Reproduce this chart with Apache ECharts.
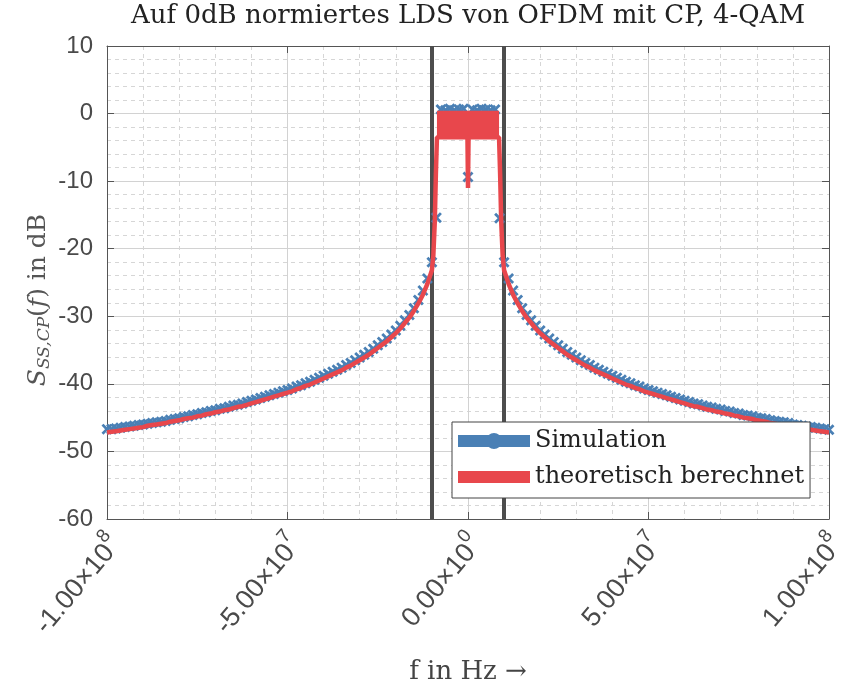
<!DOCTYPE html>
<html>
<head>
<meta charset="utf-8">
<script src="https://cdn.jsdelivr.net/npm/echarts@6/dist/echarts.min.js"></script>
<style>
  html, body { margin: 0; padding: 0; background: #fff; }
  #chart { width: 843px; height: 687px; }
</style>
</head>
<body>
<div id="chart"></div>
<script>
// Frequency resolution of the simulated PSD (FFT bin spacing in Hz)
const binStep = 1.25e6;

// Simulated PSD in dB, bins k = -80 .. -8
const simLeft = [
  -46.7, -46.7, -46.6, -46.5, -46.4, -46.3, -46.2, -46.1, -46.0, -45.9,
  -45.8, -45.7, -45.6, -45.5, -45.3, -45.2, -45.1, -44.9, -44.8, -44.6,
  -44.5, -44.3, -44.2, -44.0, -43.9, -43.7, -43.6, -43.4, -43.2, -43.1,
  -42.9, -42.7, -42.5, -42.3, -42.1, -41.9, -41.7, -41.5, -41.3, -41.1,
  -40.9, -40.7, -40.4, -40.2, -39.9, -39.7, -39.4, -39.1, -38.8, -38.5,
  -38.2, -37.9, -37.6, -37.2, -36.9, -36.5, -36.1, -35.7, -35.3, -34.8,
  -34.3, -33.8, -33.3, -32.7, -32.1, -31.4, -30.6, -29.8, -28.8, -27.6,
  -26.2, -24.4, -22.0
];
// Simulated PSD in dB, bins k = -7 .. 7 (occupied band, DC carrier unused)
const simCenter = [-15.4, 0.6, 0.5, 0.7, 0.5, 0.6, 0.7, -9.4, 0.6, 0.5, 0.7, 0.6, 0.5, 0.6, -15.5];
// Simulated PSD in dB, bins k = 8 .. 80
const simRight = [
  -22.0, -24.4, -26.2, -27.6, -28.8, -29.8, -30.6, -31.4, -32.1, -32.7,
  -33.3, -33.8, -34.3, -34.8, -35.3, -35.7, -36.1, -36.5, -36.9, -37.2,
  -37.6, -37.9, -38.2, -38.5, -38.8, -39.1, -39.4, -39.7, -39.9, -40.2,
  -40.4, -40.7, -40.9, -41.1, -41.3, -41.5, -41.7, -41.9, -42.1, -42.3,
  -42.5, -42.7, -42.9, -43.0, -43.2, -43.4, -43.5, -43.7, -43.8, -44.0,
  -44.1, -44.3, -44.4, -44.6, -44.7, -44.8, -45.0, -45.1, -45.2, -45.4,
  -45.5, -45.6, -45.7, -45.8, -46.0, -46.1, -46.2, -46.3, -46.4, -46.5,
  -46.6, -46.7, -46.8
];

// Theoretical PSD in dB outside the band, |k| = 8 .. 80 (symmetric in f)
const thTail = [
  -23.2, -25.2, -26.8, -28.1, -29.2, -30.2, -31.0, -31.8, -32.5, -33.1,
  -33.7, -34.2, -34.7, -35.2, -35.7, -36.1, -36.5, -36.9, -37.3, -37.6,
  -38.0, -38.3, -38.6, -38.9, -39.2, -39.5, -39.8, -40.1, -40.3, -40.6,
  -40.8, -41.1, -41.3, -41.5, -41.7, -41.9, -42.1, -42.3, -42.5, -42.7,
  -42.9, -43.1, -43.3, -43.4, -43.6, -43.8, -43.9, -44.1, -44.2, -44.4,
  -44.5, -44.7, -44.8, -45.0, -45.1, -45.2, -45.4, -45.5, -45.6, -45.8,
  -45.9, -46.0, -46.1, -46.2, -46.4, -46.5, -46.6, -46.7, -46.8, -46.9,
  -47.0, -47.1, -47.2
];
// Steep band edges of the theoretical PSD
const thEdgeFreq = [8.6e6, 8.9e6, 9.2e6, 9.6e6];
const thEdgeVal = [-3.5, -9.0, -16.0, -21.0];
// Notch at the unused DC subcarrier
const thNotchFreq = [1.5e5, 0];
const thNotchVal = [-3.5, -11.0];
// In-band ripple of the theoretical PSD (range in dB)
const bandEdge = 8.6e6;
const bandLow = -3.5;
const bandHigh = 0.4;

// Nominal signal bandwidth limits
const bandMarkers = [-1e7, 1e7];

// Axis ranges
const xMin = -1e8, xMax = 1e8, xStep = 5e7;
const yMin = -60, yMax = 10, yStep = 10;

// ---- assemble series ----
const simData = [];
simLeft.forEach((v, i) => simData.push([(i - 80) * binStep, v]));
simCenter.forEach((v, i) => simData.push([(i - 7) * binStep, v]));
simRight.forEach((v, i) => simData.push([(i + 8) * binStep, v]));

const thData = [];
for (let k = 80; k >= 8; k--) thData.push([-k * binStep, thTail[k - 8]]);
for (let i = thEdgeFreq.length - 1; i >= 0; i--) thData.push([-thEdgeFreq[i], thEdgeVal[i]]);
thData.push([-thNotchFreq[0], thNotchVal[0]]);
thData.push([thNotchFreq[1], thNotchVal[1]]);
thData.push([thNotchFreq[0], thNotchVal[0]]);
for (let i = 0; i < thEdgeFreq.length; i++) thData.push([thEdgeFreq[i], thEdgeVal[i]]);
for (let k = 8; k <= 80; k++) thData.push([k * binStep, thTail[k - 8]]);

const BLUE = '#4a80b5';
const RED = '#e8474c';
const AXIS = '#555555';
const LABEL = '#4a4a4a';
const SERIF = 'DejaVu Serif';
const SANS = 'Liberation Sans';

const crossSymbol = 'path://M0,1.8L1.8,0L5,3.2L8.2,0L10,1.8L6.8,5L10,8.2L8.2,10L5,6.8L1.8,10L0,8.2L3.2,5Z';
const simLegendIcon = 'path://M0,0H72V0.01H0Z M0,3H30.71A8,8 0 0 1 41.29,3H72V15H41.29A8,8 0 0 1 30.71,15H0Z M0,17.99H72V18H0Z';
const thLegendIcon = 'path://M0,0H72V0.01H0Z M0,3H72V15H0Z M0,17.99H72V18H0Z';

function sciLabel(v) {
  if (v === 0) return '{m|0.00×10}{e|0}';
  const e = Math.floor(Math.log10(Math.abs(v)) + 1e-9);
  const m = (v / Math.pow(10, e)).toFixed(2);
  return '{m|' + m + '×10}{e|' + e + '}';
}

const gridLines = {
  splitLine: { show: true, lineStyle: { color: '#d2d2d2', width: 1 } },
  minorSplitLine: { show: true, lineStyle: { color: '#d6d6d6', width: 1, type: [4, 4] } }
};

const chart = echarts.init(document.getElementById('chart'), null, { renderer: 'canvas' });

chart.setOption({
  animation: false,
  backgroundColor: '#ffffff',
  grid: { left: 107, right: 14, top: 46, bottom: 168, containLabel: false, outerBoundsMode: 'none' },
  xAxis: [
    Object.assign({
      type: 'value', min: xMin, max: xMax, interval: xStep, position: 'bottom',
      axisLine: { show: true, onZero: false, lineStyle: { color: AXIS, width: 1 } },
      axisTick: { show: true, inside: true, length: 7, lineStyle: { color: AXIS } },
      minorTick: { show: false, splitNumber: 5 },
      axisLabel: {
        rotate: 50, margin: 26, formatter: sciLabel, padding: [0, -10, 0, 0],
        rich: {
          m: { fontFamily: SANS, fontSize: 27, color: LABEL, lineHeight: 35, verticalAlign: 'bottom' },
          e: { fontFamily: SANS, fontSize: 19, color: LABEL, lineHeight: 35, verticalAlign: 'top' }
        }
      },
      name: 'f in Hz →', nameLocation: 'middle', nameGap: 140,
      nameTextStyle: { fontFamily: SERIF, fontSize: 26, color: '#444' }
    }, gridLines),
    {
      type: 'value', min: xMin, max: xMax, interval: xStep, position: 'top',
      axisLine: { show: true, onZero: false, lineStyle: { color: AXIS, width: 1 } },
      axisTick: { show: true, inside: true, length: 7, lineStyle: { color: AXIS } },
      axisLabel: { show: false }, splitLine: { show: false }
    }
  ],
  yAxis: [
    Object.assign({
      type: 'value', min: yMin, max: yMax, interval: yStep, position: 'left',
      axisLine: { show: true, onZero: false, lineStyle: { color: AXIS, width: 1 } },
      axisTick: { show: true, inside: true, length: 7, lineStyle: { color: AXIS } },
      minorTick: { show: false, splitNumber: 5 },
      axisLabel: { fontFamily: SANS, fontSize: 24, color: LABEL, margin: 14 }
    }, gridLines),
    {
      type: 'value', min: yMin, max: yMax, interval: yStep, position: 'right',
      axisLine: { show: true, onZero: false, lineStyle: { color: AXIS, width: 1 } },
      axisTick: { show: true, inside: true, length: 7, lineStyle: { color: AXIS } },
      axisLabel: { show: false }, splitLine: { show: false }
    }
  ],
  legend: {
    orient: 'vertical', left: 452, top: 422,
    padding: [7, 6, 9, 6], itemGap: 12,
    itemWidth: 72, itemHeight: 18,
    backgroundColor: '#ffffff', borderColor: '#444', borderWidth: 1, borderRadius: 0,
    selectedMode: false,
    itemStyle: { borderWidth: 0, opacity: 1 },
    textStyle: { fontFamily: SERIF, fontSize: 24, color: '#222' },
    data: [
      { name: 'Simulation', icon: simLegendIcon },
      { name: 'theoretisch berechnet', icon: thLegendIcon }
    ]
  },
  graphic: [
    {
      type: 'text', x: 468, y: 16, silent: true,
      style: {
        text: 'Auf 0dB normiertes LDS von OFDM mit CP, 4-QAM',
        fontFamily: SERIF, fontSize: 26, fill: '#222',
        align: 'center', verticalAlign: 'middle'
      }
    },
    {
      type: 'text', x: 38, y: 300, rotation: Math.PI / 2, silent: true,
      style: {
        text: '{i|S}{sub|SS,CP}{r|(}{i|f}{r|) in dB}',
        align: 'center', verticalAlign: 'middle', fill: '#555',
        rich: {
          i: { fontFamily: SERIF, fontStyle: 'italic', fontSize: 25, fill: '#555' },
          r: { fontFamily: SERIF, fontSize: 25, fill: '#555' },
          sub: { fontFamily: SERIF, fontStyle: 'italic', fontSize: 17, fill: '#555', padding: [14, 0, 0, 0] }
        }
      }
    }
  ],
  series: [
    {
      name: 'bandwidth', type: 'line', data: [], silent: true, z: 1,
      markLine: {
        z: 1, silent: true, symbol: 'none', label: { show: false },
        lineStyle: { color: '#4d4d4d', width: 4, type: 'solid' },
        data: bandMarkers.map(f => ({ xAxis: f }))
      }
    },
    {
      name: 'Simulation', type: 'scatter', data: simData, z: 2, silent: true,
      symbol: crossSymbol, symbolSize: 11,
      itemStyle: { color: BLUE, opacity: 1 }
    },
    {
      name: 'theoretisch berechnet', type: 'line', data: thData, z: 3, silent: true,
      symbol: 'none', showSymbol: false,
      lineStyle: { color: RED, width: 4.5 },
      itemStyle: { color: RED },
      markArea: {
        z: 3, silent: true,
        itemStyle: { color: RED, opacity: 1 },
        data: [[{ coord: [-bandEdge, bandLow] }, { coord: [bandEdge, bandHigh] }]]
      }
    }
  ]
});
</script>
</body>
</html>
